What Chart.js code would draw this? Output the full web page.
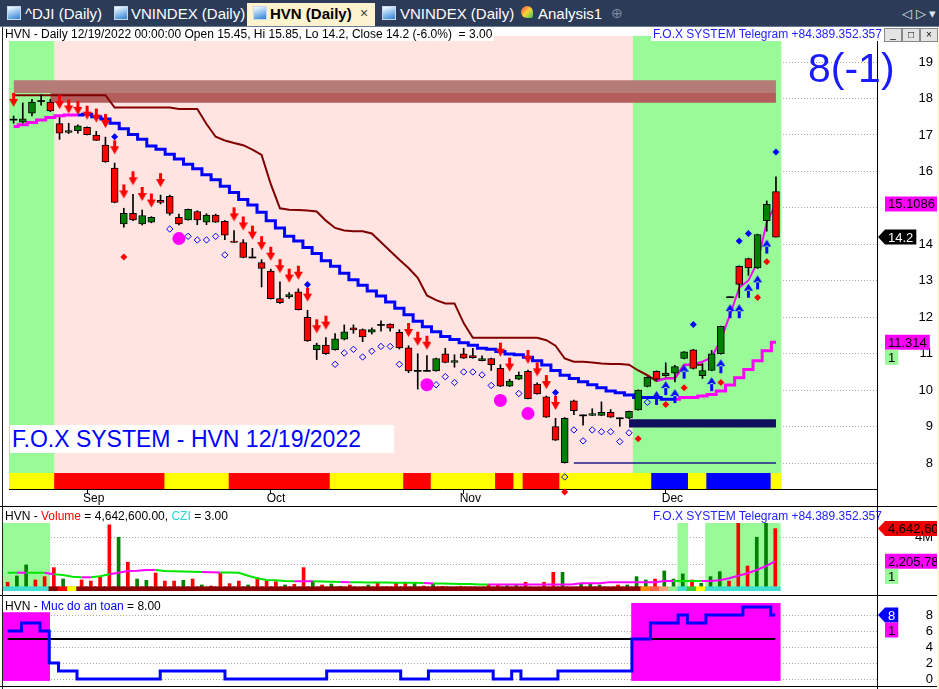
<!DOCTYPE html>
<html>
<head>
<meta charset="utf-8">
<title>HVN (Daily)</title>
<script src="https://cdn.jsdelivr.net/npm/chart.js@4.4.1/dist/chart.umd.min.js"></script>
<style>
  html, body { margin:0; padding:0; background:#fff; }
  #root { position:relative; width:939px; height:689px; overflow:hidden; font-family:"Liberation Sans", Arial, sans-serif; background:#fff; }
  .a { position:absolute; }
  #tabs { left:0; top:0; width:939px; height:26px; background:#2c3b58; }
  .tab { position:absolute; top:5px; height:17px; line-height:17px; font-size:15px; color:#fff; white-space:nowrap; }
  .ico { position:absolute; top:6px; width:12px; height:12px; border:1px solid #c8d8ee; background:linear-gradient(160deg,#ffffff 0%,#9cc7f0 45%,#2f7fd0 100%); }
  #activeTab { position:absolute; left:247px; top:3px; width:128px; height:23px; background:#fdf3cf; }
  .hdr { position:absolute; font-size:12px; line-height:13px; height:13px; white-space:nowrap; background:#fff; color:#000; padding:0 2px; }
  canvas { position:absolute; left:0; }
  .btn { position:absolute; top:28px; width:16px; height:12px; background:#e4e4e4; border:1px solid #888; font-size:10px; line-height:11px; text-align:center; color:#000; }
</style>
</head>
<body>
<div id="root">
  <div id="tabs" class="a">
    <div class="ico" style="left:7px"></div><div class="tab" style="left:25px">^DJI (Daily)</div>
    <div class="ico" style="left:114px"></div><div class="tab" style="left:131px">VNINDEX (Daily)</div>
    <div id="activeTab"></div>
    <div class="ico" style="left:253px"></div><div class="tab" style="left:270px;color:#000;font-weight:bold">HVN (Daily)</div>
    <div class="tab" style="left:360px;color:#444;font-size:14px">×</div>
    <div class="ico" style="left:382px"></div><div class="tab" style="left:400px">VNINDEX (Daily)</div>
    <div class="ico" style="left:521px;border:none;border-radius:6px 6px 2px 6px;background:linear-gradient(135deg,#ff3b3b 0%,#ffd23b 50%,#33c84a 100%)"></div><div class="tab" style="left:538px">Analysis1</div>
    <div class="tab" style="left:611px;color:#7d8aa0;font-size:14px">⊕</div>
    <div class="tab" style="left:902px;color:#dfe4ee;font-size:13px">◁ ▷ ▾</div>
  </div>
  <div class="a" style="left:0;top:26px;width:939px;height:1px;background:#6b7a94"></div>

  <canvas id="cMain" width="939" height="479" style="top:27px"></canvas>
  <canvas id="cVol" width="939" height="88" style="top:507px"></canvas>
  <canvas id="cSafe" width="939" height="90" style="top:596px"></canvas>

  <div class="a" style="left:0;top:506px;width:939px;height:1px;background:#000"></div>
  <div class="a" style="left:0;top:595px;width:939px;height:1px;background:#000"></div>
  <div class="a" style="left:0;top:686px;width:939px;height:1px;background:#000"></div>
  <div class="a" style="left:2px;top:27px;width:1px;height:662px;background:#222"></div>
  <div class="a" style="left:877px;top:41px;width:1px;height:648px;background:#000"></div>
  <div class="a" style="left:937px;top:27px;width:2px;height:662px;background:#fff7d8"></div>

  <div id="mainHdr" class="hdr" style="left:3px;top:28px"></div>
  <div class="hdr" style="left:651px;top:28px;color:#2323ff">F.O.X SYSTEM Telegram +84.389.352.357</div>
  <div class="btn" style="left:884px">_</div>
  <div class="btn" style="left:902px">□</div>
  <div class="btn" style="left:920px">×</div>
  <div class="a" style="left:808px;top:48px;font-size:41px;line-height:41px;color:#1a1aff;white-space:nowrap">8(-1)</div>
  <div class="a" style="left:10px;top:425px;width:384px;height:28px;background:#fff;color:#0000ff;font-size:23px;line-height:28px;white-space:nowrap;padding-left:2px;box-sizing:border-box">F.O.X SYSTEM - HVN 12/19/2022</div>

  <div id="volHdr" class="hdr" style="left:3px;top:510px;background:transparent"></div>
  <div class="hdr" style="left:651px;top:510px;color:#2323ff;background:transparent">F.O.X SYSTEM Telegram +84.389.352.357</div>
  <div class="hdr" style="left:3px;top:600px;background:transparent">HVN - <span style="color:#0000ff">Muc do an toan</span> = 8.00</div>
</div>

<script>
// ================= DATA =================
const YEAR = '2022';
const dates = [
  '08/22','08/23','08/24','08/25','08/26','08/29','08/30','08/31',
  '09/05','09/06','09/07','09/08','09/09','09/12','09/13','09/14','09/15','09/16','09/19','09/20',
  '09/21','09/22','09/23','09/26','09/27','09/28','09/29','09/30',
  '10/03','10/04','10/05','10/06','10/07','10/10','10/11','10/12','10/13','10/14','10/17','10/18',
  '10/19','10/20','10/21','10/24','10/25','10/26','10/27','10/28','10/31',
  '11/01','11/02','11/03','11/04','11/07','11/08','11/09','11/10','11/11','11/14','11/15','11/16',
  '11/17','11/18','11/21','11/22','11/23','11/24','11/25','11/28','11/29','11/30',
  '12/01','12/02','12/05','12/06','12/07','12/08','12/09','12/12','12/13','12/14','12/15','12/16','12/19'
];
const open = [
  17.42,17.35,17.60,17.93,17.90,17.31,17.07,17.12,17.21,17.00,
  16.72,16.09,14.56,14.85,14.56,14.61,15.21,15.32,14.74,14.67,
  14.90,14.61,14.80,14.63,14.09,14.05,13.64,13.50,13.27,12.51,
  12.56,12.70,12.00,11.11,11.24,11.11,11.40,11.71,11.66,11.59,
  11.79,11.81,11.59,11.16,10.53,10.53,10.53,11.00,10.76,11.00,
  10.95,10.81,10.87,10.60,10.11,10.30,10.52,10.17,9.82,9.00,
  8.01,9.71,9.31,9.31,9.31,9.39,9.23,9.23,9.46,10.10,
  10.52,10.40,10.47,10.87,11.11,10.40,10.54,11.00,12.55,13.40,
  13.61,13.35,14.65,15.45
];
const high = [
  17.52,17.88,17.98,18.10,17.98,17.48,17.32,17.28,17.22,17.10,
  16.94,16.23,14.99,15.37,14.94,14.76,15.35,15.35,14.83,14.97,
  14.92,14.84,14.83,14.65,14.38,14.13,13.89,13.58,13.32,12.97,
  12.68,12.78,12.19,11.29,11.44,11.55,11.79,11.79,11.68,11.71,
  11.90,11.82,11.66,11.22,11.00,10.95,10.88,11.15,10.97,11.15,
  11.15,10.94,10.88,10.70,10.30,10.50,10.55,10.20,9.84,9.23,
  9.25,9.73,9.32,9.49,9.68,9.47,9.24,9.43,10.01,10.37,
  10.53,10.75,10.68,11.06,11.12,10.73,11.09,11.76,12.56,13.41,
  13.62,14.28,15.19,15.85
];
const low = [
  17.32,17.33,17.52,17.82,17.64,16.88,17.04,17.05,17.00,16.85,
  16.25,15.14,14.47,14.65,14.53,14.59,15.11,14.80,14.53,14.66,
  14.54,14.54,14.60,14.13,14.05,13.63,13.63,12.83,12.50,12.38,
  12.52,12.20,11.34,10.84,10.98,11.10,11.38,11.56,11.33,11.54,
  11.62,11.62,11.13,10.48,10.03,10.52,10.52,10.75,10.63,10.87,
  10.88,10.80,10.54,10.10,10.10,10.29,9.76,9.89,9.25,8.62,
  8.00,9.33,9.04,9.30,9.30,9.25,9.01,9.22,9.45,10.09,
  10.27,10.38,10.23,10.86,10.58,10.32,10.53,10.99,12.55,12.54,
  13.15,13.34,14.36,14.20
];
const close = [
  17.42,17.44,17.90,17.93,17.66,17.05,17.12,17.25,17.01,16.85,
  16.26,15.15,14.85,14.67,14.79,14.74,15.15,14.85,14.56,14.96,
  14.67,14.80,14.61,14.25,14.05,13.64,13.64,13.34,12.51,12.40,
  12.62,12.21,11.35,11.24,11.00,11.41,11.60,11.65,11.46,11.66,
  11.79,11.70,11.16,10.53,10.53,10.53,10.87,10.76,10.81,10.88,
  10.89,10.87,10.70,10.11,10.25,10.41,9.77,9.90,9.26,8.63,
  9.23,9.44,9.31,9.36,9.39,9.26,9.23,9.42,10.00,10.35,
  10.30,10.47,10.65,11.05,10.60,10.54,11.00,11.75,12.55,12.90,
  13.35,14.27,15.10,14.20
];
// trailing stop (dark red line)
const stopLine = [
  18.09,18.09,18.09,18.09,18.09,18.09,18.09,18.09,18.09,18.09,
  18.09,17.75,17.75,17.75,17.75,17.75,17.75,17.75,17.71,17.71,
  17.71,17.30,16.95,16.85,16.78,16.72,16.60,16.45,15.65,14.99,
  14.95,14.94,14.93,14.90,14.65,14.45,14.38,14.36,14.36,14.30,
  14.06,13.82,13.58,13.35,13.08,12.60,12.47,12.38,12.38,11.84,
  11.44,11.44,11.44,11.44,11.44,11.44,11.44,11.44,11.37,11.22,
  10.87,10.78,10.78,10.76,10.73,10.72,10.72,10.70,10.54,10.41,
  10.25,10.33,10.33,10.70,10.70,10.70,null,null,null,null,
  null,null,null,null
];
// stepped trend line (M = magenta / up, B = blue / down)
const trendLine = [
  17.23,17.28,17.34,17.41,17.48,17.53,17.55,17.55,17.57,17.50,
  17.44,17.32,17.17,17.01,16.88,16.70,16.61,16.47,16.34,16.20,
  16.07,15.91,15.77,15.59,15.42,15.23,15.08,14.88,14.65,14.45,
  14.22,14.09,13.91,13.75,13.55,13.40,13.21,13.03,12.88,12.72,
  12.58,12.42,12.25,12.07,11.89,11.74,11.60,11.47,11.39,11.30,
  11.23,11.15,11.12,11.06,10.99,10.97,10.90,10.81,10.69,10.54,
  10.41,10.32,10.23,10.15,10.07,9.98,9.93,9.87,9.80,9.80,
  9.80,9.75,9.75,9.80,9.80,9.84,9.88,9.98,10.14,10.34,
  10.57,10.81,11.08,11.314
];
const trendCodes = 'MMMMMMMM' + 'BBBBBBBBBB' + 'BBBBBBBBBB' + 'BBBBBBBBBB' + 'BBBBBBBBBB' + 'BBBBBBBBBB' + 'BBBBBBBBBB' + 'BBBBB' + 'MMMMMMMMMMM';
// fast magenta line (starts at bar 70)
const fastStart = 70;
const fastLine = [10.25,10.32,10.33,10.69,10.72,10.78,10.90,11.39,12.07,12.81,13.01,13.51,14.61,15.1086];
// background zones  G = green, P = pink
const zoneCodes = 'GGGGG' + 'PPPPPPPPPP' + 'PPPPPPPPPP' + 'PPPPPPPPPP' + 'PPPPPPPPPP' + 'PPPPPPPPPP' + 'PPPPPPPPPP' + 'PPP' + 'GGGGGGGGGGGGGGGG';
// signal strip  Y = yellow, R = red, B = blue
const signalCodes = 'YYYYY' + 'RRRRRRRRRRRR' + 'YYYYYYY' + 'RRRRRRRRRRR' + 'YYYYYYYY' + 'RRR' + 'YYYYYYY' + 'RR' + 'Y' + 'RRRR' + 'YYYYYYYYYY' + 'BBBB' + 'YY' + 'BBBBBBB' + 'Y';
// resistance band and support box levels
const resistTop = 18.50, resistMid = 18.15, resistLow = 17.88, resistDarkFrom = 4;
const boxTop = 9.20, boxBottom = 8.98, boxFrom = 67;
const supportLevel = 8.00, supportFrom = 61;
// markers
const downArrowBars  = [0,5,6,7,8,9,10,11,12,13,14,15,16,24,25,26,27,28,29,30,31,32,33,34,43,44,45,53,54,56,57,58,59];
const downArrowPrice = [17.77,17.71,17.59,17.55,17.42,17.34,17.19,16.47,15.26,15.62,15.19,15.01,15.57,14.63,14.38,14.13,13.84,13.55,13.21,12.95,13.03,12.43,11.56,11.66,11.46,11.22,11.11,10.92,10.51,10.72,10.38,10.03,9.46];
const upArrowBars  = [70,71,72,73,76,77,78,79,80,81,82];
const upArrowPrice = [9.98,10.25,10.03,10.70,10.36,10.85,12.36,12.36,12.92,13.15,14.13];
const hollowBars  = [17,18,19,20,21,22,23,35,36,37,38,39,40,41,42,46,47,48,49,50,51,52,55,60,61,62,63,64,65,66,67,69];
const hollowPrice = [14.42,14.12,14.22,14.12,14.12,14.22,13.71,10.71,11.02,11.12,10.91,11.07,11.20,11.20,10.71,10.15,10.37,10.21,10.50,10.50,10.42,10.13,9.91,7.62,8.91,8.61,8.91,8.86,8.86,8.59,8.83,9.67];
const circleBars  = [18,45,53,56];
const circlePrice = [14.16,10.15,9.72,9.36];
const blueDotBars  = [11,32,59,74,79,80,83];
const blueDotPrice = [16.95,12.90,9.94,11.80,14.09,14.30,16.53];
const redDotBars  = [12,60,68,71,73,77,81,82];
const redDotPrice = [13.65,7.21,8.67,9.61,10.07,10.21,12.54,13.52];
const priceTicks = [8,9,10,11,12,13,14,15,16,17,18,19];

// volume pane
const volume = [
  650000,1120000,1940000,820000,1070000,1740000,890000,300000,820000,740000,
  1070000,4920000,4000000,2140000,890000,790000,1340000,740000,740000,790000,
  890000,450000,370000,1310000,550000,740000,450000,990000,740000,690000,
  450000,500000,1740000,740000,450000,520000,350000,450000,250000,450000,
  600000,320000,600000,650000,570000,370000,550000,350000,300000,350000,
  300000,250000,500000,500000,400000,450000,650000,250000,650000,1390000,
  1390000,200000,500000,500000,450000,250000,450000,450000,1070000,820000,
  890000,1490000,890000,1270000,820000,570000,1070000,1440000,740000,5400000,
  1860000,4000000,5800000,4642600
];
const volCodes = 'rggrrrggrr' + 'rrgrggrrrg' + 'rgrrrrgrrr' + 'grrgrggrrg' + 'rrrrgrgrgr' + 'rgrrggrrrr' + 'grgggrrggg' + 'rgggrgggrr' + 'rggr';
const volumeMA = [
  1360000,1360000,1360000,1360000,1360000,1240000,1190000,1060000,1020000,1020000,
  1090000,1240000,1360000,1490000,1510000,1560000,1560000,1490000,1470000,1450000,
  1430000,1420000,1400000,1380000,1370000,1360000,1140000,950000,820000,800000,
  740000,730000,720000,720000,700000,680000,670000,660000,650000,640000,
  630000,630000,620000,620000,610000,600000,560000,550000,540000,530000,
  520000,480000,480000,480000,480000,480000,480000,480000,480000,480000,
  480000,480000,570000,570000,570000,650000,650000,650000,650000,650000,
  650000,740000,740000,740000,740000,740000,740000,800000,950000,1140000,
  1320000,1560000,1860000,2205780
];
const maCodes = 'GGMGGMGGGM' + 'GGMMMMMGGG' + 'GGMMGGGGGG' + 'GGMMGGGMGG' + 'GGGGGGMGGG' + 'GGGMMMMMMM' + 'MMMMMMMMMM' + 'MMMGGGMMMM' + 'MMMM';
const volZoneCodes = 'GGGGG' + '----------' + '----------' + '----------' + '----------' + '----------' + '----------' + '--------' + 'G' + '--' + 'GGGGGGGG';
const volStripCodes = 'CCCCC' + 'DRY' + 'DDDDDDDDDD' + 'DDDDDDDDDD' + 'DDDDDDDDDD' + 'DDDDDDDDDD' + 'DDDDDDDDDD' + 'DDDDDDDDDD' + 'D' + 'OTSLCGY' + 'CCCCCCCC';
const volTicks = [2000000, 4000000];

// safety pane ("Muc do an toan")
const safety = [
  6,6,7,7,6,2,1,1,0,0,
  0,0,0,0,0,0,0,1,1,1,
  1,1,1,1,0,0,0,0,0,0,
  0,0,0,0,0,1,1,1,1,1,
  1,1,1,0,0,0,1,1,1,1,
  1,1,1,0,0,1,0,0,0,0,
  1,1,1,1,1,1,1,1,5,5,
  7,7,7,8,7,7,8,8,8,8,
  9,9,9,8
];
const safetyLimit = 5;
const safeZones = [ {from:0, to:4, top:8.3}, {from:68, to:83, top:9.46} ];
const safeTicks = [0,2,4,6,8];

// ================= HELPERS =================
const N = dates.length;
[['open',open],['high',high],['low',low],['close',close],['stopLine',stopLine],['trendLine',trendLine],
 ['trendCodes',trendCodes],['zoneCodes',zoneCodes],['signalCodes',signalCodes],['volume',volume],['volCodes',volCodes],
 ['volumeMA',volumeMA],['maCodes',maCodes],['volZoneCodes',volZoneCodes],['volStripCodes',volStripCodes],['safety',safety]]
 .forEach(([n,a]) => { if (a.length !== N) throw new Error(n + ' has length ' + a.length + ' expected ' + N); });

const FONT = '"Liberation Sans", Arial, sans-serif';
const X_MIN = -0.5, X_MAX = 94;
const P_MIN = 7.29, P_MAX = 19.714;
const STRIP_TOP = 7.72;
const VOL_MAX = 5060000, VOL_STRIP = 320000;
const S_MIN = -0.875, S_MAX = 10.125;

const pts = (arr, start = 0) => arr.map((v, i) => ({ x: start + i, y: v }));
const ptsAt = (bars, vals) => bars.map((b, i) => ({ x: b, y: vals[i] }));
const level = (v, from, to) => { const a = []; for (let i = from; i <= to; i++) a.push({ x: i, y: v }); return a; };
const MONTHS = { '08':'Aug', '09':'Sep', '10':'Oct', '11':'Nov', '12':'Dec' };
const monthTicks = [];
for (let i = 1; i < N; i++) if (dates[i].slice(0,2) !== dates[i-1].slice(0,2)) monthTicks.push(i);

const last = N - 1;
const chg = (close[last] / close[last-1] - 1) * 100;
document.getElementById('mainHdr').textContent =
  'HVN - Daily ' + dates[last] + '/' + YEAR + ' 00:00:00 Open ' + open[last] + ', Hi ' + high[last] +
  ', Lo ' + low[last] + ', Close ' + close[last] + ' (' + chg.toFixed(1) + '%)\u00a0 = 3.00';
document.getElementById('volHdr').innerHTML =
  'HVN - <span style="color:#ff0000">Volume</span> = ' +
  volume[last].toLocaleString('en-US', {minimumFractionDigits:2}) +
  ', <span style="color:#2ad4d4">CZI</span> = 3.00';

// arrow images
function makeArrow(color, down) {
  const c = document.createElement('canvas');
  c.width = 9; c.height = 30;
  const g = c.getContext('2d');
  g.fillStyle = color;
  g.beginPath();
  if (down) {           // tip at the centre (y=15)
    g.rect(3, 1, 3, 7);
    g.moveTo(0, 7); g.lineTo(9, 7); g.lineTo(4.5, 15); g.closePath();
  } else {
    g.moveTo(4.5, 15); g.lineTo(0, 22); g.lineTo(9, 22); g.closePath();
    g.rect(3, 21, 3, 8);
  }
  g.fill();
  return c;
}
const downArrowImg = makeArrow('#ff0000', true);
const upArrowImg = makeArrow('#0a0aff', false);

function tagPlugin(tags) {
  return {
    id: 'tags',
    afterDraw(chart) {
      const ctx = chart.ctx;
      const ys = chart.scales.y;
      ctx.save();
      ctx.font = '13px ' + FONT;
      ctx.textBaseline = 'middle';
      ctx.textAlign = 'left';
      tags.forEach(t => {
        const y = ys.getPixelForValue(t.value) + (t.dy || 0);
        const w = ctx.measureText(t.text).width + 6;
        const h = 15, x0 = 885;
        ctx.fillStyle = t.bg;
        ctx.beginPath();
        if (t.arrow) {
          ctx.moveTo(878, y); ctx.lineTo(885, y - h/2); ctx.lineTo(x0 + w, y - h/2);
          ctx.lineTo(x0 + w, y + h/2); ctx.lineTo(885, y + h/2); ctx.closePath();
        } else {
          ctx.rect(x0, y - h/2, w, h);
        }
        ctx.fill();
        ctx.fillStyle = t.fg;
        ctx.fillText(t.text, x0 + 3, y + 1);
      });
      ctx.restore();
    }
  };
}

// right axis: 56px wide + 6px layout padding -> labels right-aligned at x=933
function yAxis(min, max, ticks, fmt) {
  return {
    position: 'right', min, max,
    afterBuildTicks: s => { s.ticks = ticks.map(v => ({ value: v })); },
    grid: { color: '#a8a8a8', drawTicks: false, lineWidth: 1 },
    border: { display: true, color: '#000', width: 1, dash: [1, 2] },
    ticks: { autoSkip: false, color: '#000', font: { family: FONT, size: 13 }, padding: 4, crossAlign: 'far', callback: fmt || (v => v) },
    afterFit: s => { s.width = 56; s.paddingTop = 0; s.paddingBottom = 0; }
  };
}
function hiddenX() {
  return { type: 'linear', min: X_MIN, max: X_MAX, offset: false, display: false };
}
const baseOpts = (padding, scales) => ({
  responsive: false, animation: false, devicePixelRatio: 1, events: [],
  layout: { padding },
  plugins: { legend: { display: false }, tooltip: { enabled: false } },
  scales
});

// ================= MAIN PRICE CHART =================
const zoneColor = { G: '#98fb98', P: '#ffe4e1' };
const signalColor = { Y: '#ffff00', R: '#ff0000', B: '#0000ff' };
const bodies = [], bodyColors = [], bodyBorders = [];
for (let i = 0; i < N; i++) {
  const lo = Math.min(open[i], close[i]), hi = Math.max(open[i], close[i]);
  if (hi - lo < 0.02) {
    bodies.push({ x: i, y: [open[i] - 0.014, open[i] + 0.014] });
    bodyColors.push('#000'); bodyBorders.push(0);
  } else {
    bodies.push({ x: i, y: [lo, hi] });
    bodyColors.push(close[i] > open[i] ? '#008000' : '#ff0000'); bodyBorders.push(1);
  }
}
const noLine = { borderWidth: 0, borderColor: 'rgba(0,0,0,0)', pointRadius: 0, tension: 0 };

new Chart(document.getElementById('cMain'), {
  type: 'bar',
  data: { datasets: [
    { type:'bar', order:100, grouped:false, barThickness:10, borderWidth:0,
      data: dates.map((d,i) => ({ x:i, y:[P_MIN, P_MAX] })),
      backgroundColor: zoneCodes.split('').map(c => zoneColor[c]) },
    { type:'line', order:96, ...noLine, fill:false, data: level(resistTop, 0, N-1) },
    { type:'line', order:95, ...noLine, fill:'-1', backgroundColor:'#b57b77', data: level(resistMid, 0, N-1) },
    { type:'line', order:94, ...noLine, fill:false, data: level(resistMid, resistDarkFrom, N-1) },
    { type:'line', order:93, ...noLine, fill:'-1', backgroundColor:'#b45d5d', data: level(resistLow, resistDarkFrom, N-1) },
    { type:'line', order:92, ...noLine, fill:false, data: level(boxTop, boxFrom, N-1) },
    { type:'line', order:91, ...noLine, fill:'-1', backgroundColor:'#0f0f5e', data: level(boxBottom, boxFrom, N-1) },
    { type:'line', order:80, data: level(supportLevel, supportFrom, N-1), borderColor:'#1c1c8c', borderWidth:1.5, pointRadius:0 },
    { type:'line', order:70, data: pts(stopLine), borderColor:'#800000', borderWidth:2, pointRadius:0, tension:0 },
    { type:'line', order:60, data: pts(trendLine), stepped:'middle', borderWidth:3, pointRadius:0, borderColor:'#0000ff',
      segment: { borderColor: c => trendCodes[c.p1DataIndex] === 'M' ? '#ff00ff' : '#0000ff' } },
    { type:'line', order:59, data: pts(fastLine, fastStart), borderColor:'#ff00ff', borderWidth:2, pointRadius:0, tension:0 },
    { type:'bar', order:50, grouped:false, barThickness:10, borderWidth:0,
      data: dates.map((d,i) => ({ x:i, y:[P_MIN, STRIP_TOP] })),
      backgroundColor: signalCodes.split('').map(c => signalColor[c]) },
    { type:'bar', order:40, grouped:false, barThickness:1, borderWidth:0, backgroundColor:'#000',
      data: dates.map((d,i) => ({ x:i, y:[low[i], high[i]] })) },
    { type:'bar', order:39, grouped:false, barThickness:7, borderSkipped:false, borderColor:'#000',
      borderWidth: bodyBorders, backgroundColor: bodyColors, data: bodies },
    { type:'line', order:30, showLine:false, data: ptsAt(hollowBars, hollowPrice), pointStyle:'rectRot',
      pointRadius:3.2, pointBorderWidth:1, pointBorderColor:'#0000ff', pointBackgroundColor:'rgba(0,0,0,0)' },
    { type:'line', order:29, showLine:false, data: ptsAt(circleBars, circlePrice), pointStyle:'circle',
      pointRadius:6.5, pointBorderWidth:0, pointBackgroundColor:'#ff00ff' },
    { type:'line', order:20, showLine:false, data: ptsAt(downArrowBars, downArrowPrice), pointStyle: downArrowImg, pointRadius:8 },
    { type:'line', order:19, showLine:false, data: ptsAt(upArrowBars, upArrowPrice), pointStyle: upArrowImg, pointRadius:8 },
    { type:'line', order:10, showLine:false, data: ptsAt(blueDotBars, blueDotPrice), pointStyle:'rectRot',
      pointRadius:3.5, pointBorderWidth:0, pointBackgroundColor:'#0000ff' },
    { type:'line', order:9, showLine:false, clip:false, data: ptsAt(redDotBars, redDotPrice), pointStyle:'rectRot',
      pointRadius:3.5, pointHoverRadius:9, pointBorderWidth:0, pointBackgroundColor:'#ff0000' }
  ]},
  options: baseOpts({ left:3, top:1, right:6, bottom:0 }, {
    x: {
      type:'linear', min:X_MIN, max:X_MAX, offset:false, position:'bottom',
      afterBuildTicks: s => { s.ticks = monthTicks.map(v => ({ value:v })); },
      grid: { offset:false, drawOnChartArea:false, drawTicks:true, tickLength:5, color:'#000', tickColor:'#000' },
      border: { display:true, color:'#000', width:1 },
      ticks: { autoSkip:false, maxRotation:0, align:'start', padding:-3, labelOffset:-4, color:'#000',
               font:{ family:FONT, size:12 }, callback: v => MONTHS[dates[v].slice(0,2)] },
      afterFit: s => { s.height = 17; s.paddingLeft = 0; s.paddingRight = 0; }
    },
    y: yAxis(P_MIN, P_MAX, priceTicks)
  }),
  plugins: [tagPlugin([
    { value: fastLine[fastLine.length-1], text: String(fastLine[fastLine.length-1]), bg:'#ff00ff', fg:'#000' },
    { value: close[last], text: String(close[last]), bg:'#000', fg:'#fff', arrow:true },
    { value: trendLine[last], text: String(trendLine[last]), bg:'#ff00ff', fg:'#000' },
    { value: trendLine[last], dy: 15, text: '1', bg:'#98fb98', fg:'#000' }
  ])]
});

// ================= VOLUME CHART =================
const volStripColor = { C:'#40e0d0', D:'#8b0000', R:'#ff0000', Y:'#ffff00', O:'#ff8c00', T:'#ff6347', S:'#ffa07a', L:'#90ee90', G:'#32cd32' };
const volZones = [];
for (let i = 0; i < N; i++) if (volZoneCodes[i] === 'G') volZones.push({ x:i, y:[0, VOL_MAX] });

new Chart(document.getElementById('cVol'), {
  type: 'bar',
  data: { datasets: [
    { type:'bar', order:100, grouped:false, barThickness:10, borderWidth:0, backgroundColor:'#98fb98', data: volZones },
    { type:'bar', order:50, grouped:false, barThickness:3, borderWidth:0,
      data: pts(volume), backgroundColor: volCodes.split('').map(c => c === 'g' ? '#008000' : '#ff0000') },
    { type:'line', order:20, data: pts(volumeMA), borderWidth:2, pointRadius:0, tension:0, borderColor:'#00e600',
      segment: { borderColor: c => maCodes[c.p1DataIndex] === 'M' ? '#ff00ff' : '#00e600' } },
    { type:'bar', order:10, grouped:false, barThickness:10, borderWidth:0,
      data: dates.map((d,i) => ({ x:i, y:[0, VOL_STRIP] })),
      backgroundColor: volStripCodes.split('').map(c => volStripColor[c]) }
  ]},
  options: baseOpts({ left:3, top:16, right:6, bottom:4 }, {
    x: hiddenX(),
    y: yAxis(0, VOL_MAX, volTicks, v => (v / 1000000) + 'M')
  }),
  plugins: [tagPlugin([
    { value: volume[last], text: volume[last].toLocaleString('en-US'), bg:'#ee0000', fg:'#000', arrow:true },
    { value: volumeMA[last], text: volumeMA[last].toLocaleString('en-US'), bg:'#ff00ff', fg:'#000' },
    { value: volumeMA[last], dy: 15, text: '1', bg:'#98fb98', fg:'#000' }
  ])]
});

// ================= SAFETY CHART =================
const safeZoneBars = [];
safeZones.forEach(z => { for (let i = z.from; i <= z.to; i++) safeZoneBars.push({ x:i, y:[-0.2, z.top] }); });

new Chart(document.getElementById('cSafe'), {
  type: 'bar',
  data: { datasets: [
    { type:'bar', order:100, grouped:false, barThickness:10, borderWidth:0, backgroundColor:'#ff00ff', data: safeZoneBars },
    { type:'line', order:20, data: level(safetyLimit, 0, N-1), borderColor:'#000', borderWidth:2, pointRadius:0 },
    { type:'line', order:10, data: pts(safety), stepped:'middle', borderColor:'#0000ff', borderWidth:3, pointRadius:0 }
  ]},
  options: baseOpts({ left:3, top:2, right:6, bottom:0 }, {
    x: hiddenX(),
    y: yAxis(S_MIN, S_MAX, safeTicks)
  }),
  plugins: [tagPlugin([
    { value: safety[last], text: String(safety[last]), bg:'#0000ff', fg:'#fff', arrow:true },
    { value: safety[last], dy: 15, text: '1', bg:'#ff00ff', fg:'#000' }
  ])]
});
</script>
</body>
</html>
